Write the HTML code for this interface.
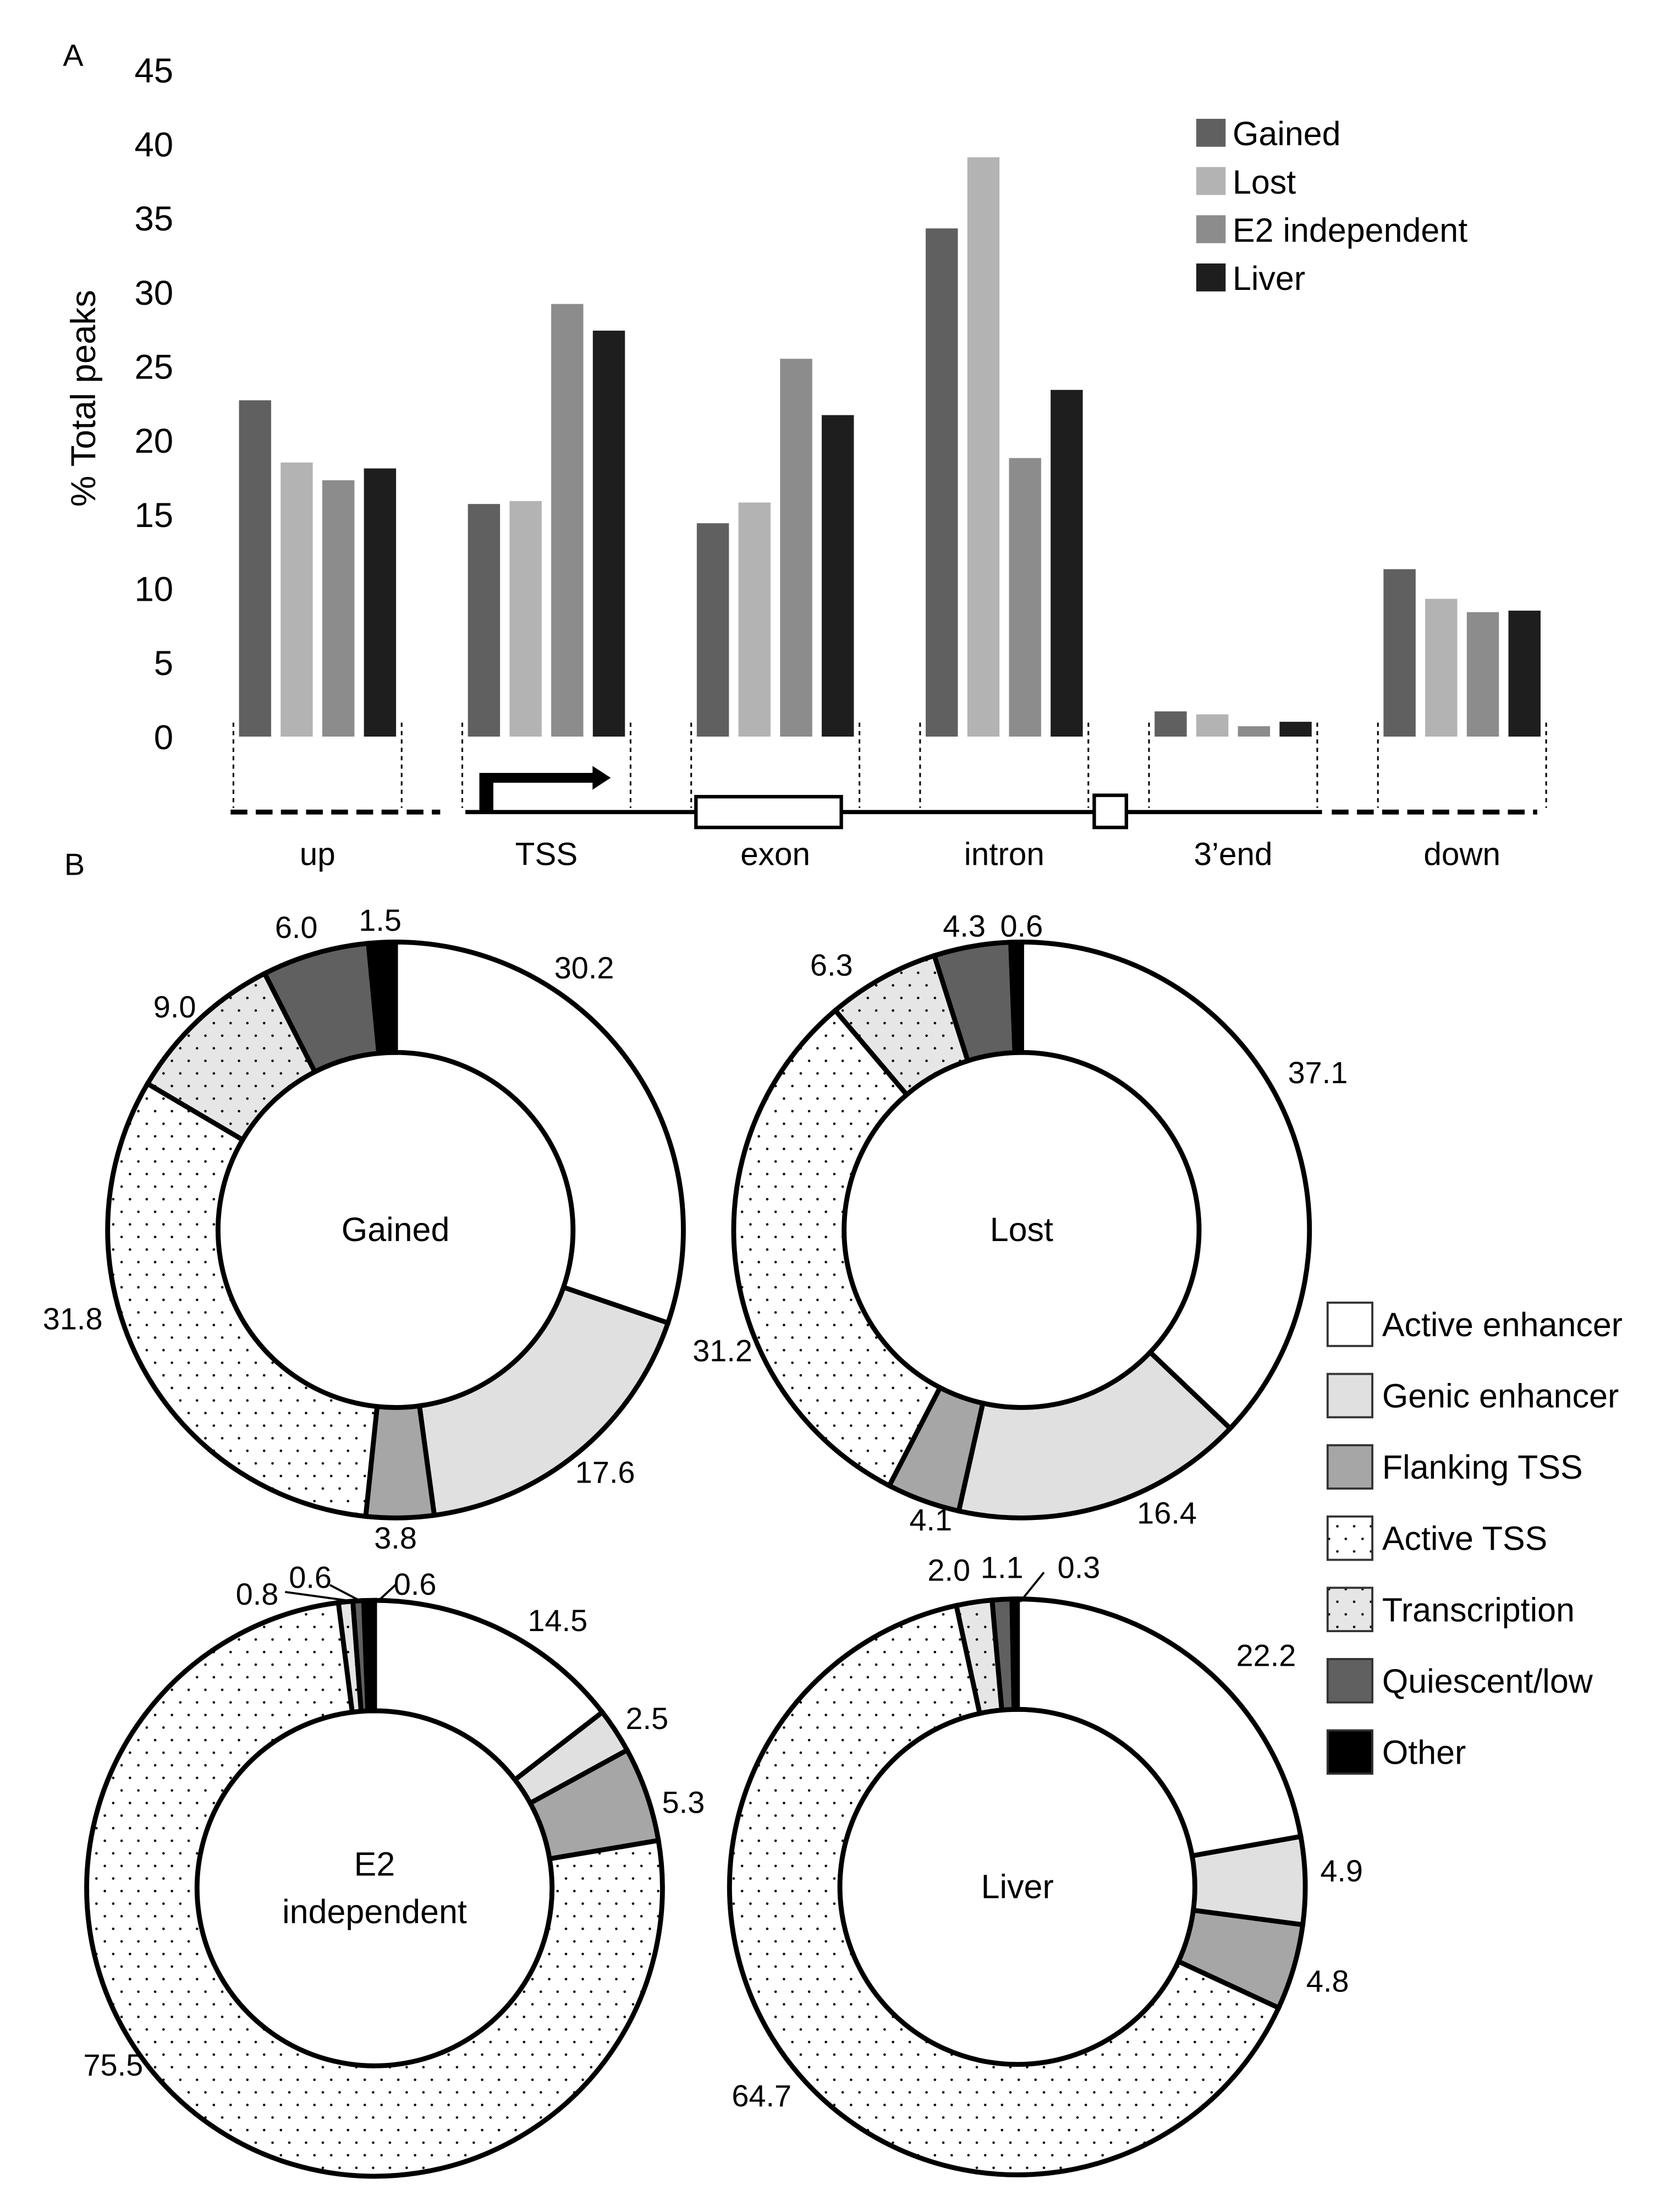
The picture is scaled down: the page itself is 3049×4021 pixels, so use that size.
<!DOCTYPE html>
<html><head><meta charset="utf-8"><style>
html,body{margin:0;padding:0;background:#fff;}
svg{display:block;font-family:"Liberation Sans",Arial,sans-serif;}
</style></head><body>
<svg id="fig" width="3049" height="4021" viewBox="0 0 1200 1582.6" xmlns="http://www.w3.org/2000/svg">
<defs>
<pattern id="dotsW" width="12" height="18" patternUnits="userSpaceOnUse">
<rect width="12" height="18" fill="#fff"/><circle cx="3" cy="3" r="0.9" fill="#000"/><circle cx="9" cy="12" r="0.9" fill="#000"/></pattern>
<pattern id="dotsG" width="12" height="18" patternUnits="userSpaceOnUse">
<rect width="12" height="18" fill="#e6e6e6"/><circle cx="3" cy="3" r="0.9" fill="#000"/><circle cx="9" cy="12" r="0.9" fill="#000"/></pattern>
</defs>
<g id="panelA"></g>
<g id="panelB"></g>
</svg>
<script>
const NS="http://www.w3.org/2000/svg";
// ---- Panel A data ----
const regions=["up","TSS","exon","intron","3\u2019end","down"];
const seriesNames=["Gained","Lost","E2 independent","Liver"];
const gainedVals=[22.7,15.7,14.4,34.3,1.7,11.3];
const lostVals=[18.5,15.9,15.8,39.1,1.5,9.3];
const e2Vals=[17.3,29.2,25.5,18.8,0.7,8.4];
const liverVals=[18.1,27.4,21.7,23.4,1.0,8.5];
const yTicks=[0,5,10,15,20,25,30,35,40,45];
// ---- Panel B data ----
const stateNames=["Active enhancer","Genic enhancer","Flanking TSS","Active TSS","Transcription","Quiescent/low","Other"];
const donutTitles=["Gained","Lost","E2 independent","Liver"];
const donutGained=[30.2,17.6,3.8,31.8,9.0,6.0,1.5];
const donutLost=[37.1,16.4,4.1,31.2,6.3,4.3,0.6];
const donutE2=[14.5,2.5,5.3,75.5,0.8,0.6,0.6];
const donutLiver=[22.2,4.9,4.8,64.7,2.0,1.1,0.3];

function el(tag,attrs,parent,text){const e=document.createElementNS(NS,tag);for(const k in attrs)e.setAttribute(k,attrs[k]);if(text!==undefined)e.textContent=text;parent.appendChild(e);return e;}

const A=document.getElementById('panelA');
const barColors=["#606060","#b3b3b3","#8c8c8c","#1e1e1e"];
const y0=527, yPer=10.6;
function yScale(v){return y0-v*yPer;}
function groupX(i){return 171+i*163.8;}
const barW=23, barStep=29.8;

let t=el('text',{x:45,y:47,'font-size':22},A,'A');

t=el('text',{x:46,y:626,'font-size':22},A,'B');


yTicks.forEach(v=>{const tk=el('text',{x:124,y:yScale(v)+9,'font-size':25,'text-anchor':'end'},A,String(v));

});
t=el('text',{x:0,y:0,'font-size':25,'text-anchor':'middle',transform:'translate(68,285) rotate(-90)'},A,'% Total peaks');


const allVals=[gainedVals,lostVals,e2Vals,liverVals];
regions.forEach((r,i)=>{
  allVals.forEach((vals,j)=>{
    const x=groupX(i)+j*barStep;
    const b=el('rect',{x:x,y:yScale(vals[i]),width:barW,height:vals[i]*yPer,fill:barColors[j]},A);
    
    
  });
  const gl=groupX(i)-4, gr=groupX(i)+3*barStep+barW+4;
  [gl,gr].forEach(xx=>{const d=el('line',{x1:xx,y1:517,x2:xx,y2:578,stroke:'#000','stroke-width':1.2,'stroke-dasharray':'3,3'},A);
  
  });
  const lb=el('text',{x:groupX(i)+(3*barStep+barW)/2,y:619,'font-size':23,'text-anchor':'middle'},A,r);
  
  
});
// gene diagram
const gd=el('g',{},A);

el('line',{x1:165,y1:581,x2:315,y2:581,stroke:'#000','stroke-width':3.5,'stroke-dasharray':'12,6'},gd);
el('line',{x1:953,y1:581,x2:1100,y2:581,stroke:'#000','stroke-width':3.5,'stroke-dasharray':'12,6'},gd);
el('line',{x1:333,y1:581,x2:946,y2:581,stroke:'#000','stroke-width':3},gd);
el('rect',{x:498,y:570,width:104,height:22,fill:'#fff',stroke:'#000','stroke-width':2.5},gd);
el('rect',{x:783,y:569,width:23,height:23,fill:'#fff',stroke:'#000','stroke-width':2.5},gd);
el('path',{d:'M343 581 L343 553 L424 553 L424 548 L437 556.5 L424 565 L424 560 L353 560 L353 581 Z',fill:'#000'},gd);
// legend A
seriesNames.forEach((n,j)=>{
  const cy=95+j*34.5;
  const s=el('rect',{x:856,y:cy-10,width:21,height:20,fill:barColors[j]},A);
  
  
  const lt=el('text',{x:882,y:cy+9,'font-size':24},A,n);
  
  
});

// ---- Panel B ----
const B=document.getElementById('panelB');
const stateFills=["#ffffff","#e0e0e0","#a6a6a6","url(#dotsW)","url(#dotsG)","#606060","#000000"];
const donutData=[donutGained,donutLost,donutE2,donutLiver];
const centers=[[283,880],[731,880],[268,1351],[728,1350]];
const Ro=206, Ri=127;
// label layout positions (display coords) - layout only
const labelPos=[
 [[418,700],[433,1061],[283,1108],[52,951],[125,728],[212,671],[272,666]],
 [[943,775],[835,1090],[666,1095],[517,974],[595,698],[690,670],[731,670]],
 [[399,1167],[463,1237],[489,1297],[81,1485],[184,1148],[222,1136],[297,1141]],
 [[906,1192],[960,1346],[950,1425],[545,1507],[679,1131],[717,1129],[772,1129]]];
function pt(cx,cy,r,a){return [cx+r*Math.sin(a),cy-r*Math.cos(a)];}
donutData.forEach((vals,d)=>{
  const [cx,cy]=centers[d];
  const g=el('g',{},B);
  
  
  const total=vals.reduce((a,b)=>a+b,0);
  let acc=0;
  vals.forEach((v,k)=>{
    const a0=acc/total*2*Math.PI; acc+=v; const a1=acc/total*2*Math.PI;
    const large=(a1-a0)>Math.PI?1:0;
    const p0=pt(cx,cy,Ro,a0),p1=pt(cx,cy,Ro,a1),q1=pt(cx,cy,Ri,a1),q0=pt(cx,cy,Ri,a0);
    const p=el('path',{d:`M${p0[0]} ${p0[1]} A${Ro} ${Ro} 0 ${large} 1 ${p1[0]} ${p1[1]} L${q1[0]} ${q1[1]} A${Ri} ${Ri} 0 ${large} 0 ${q0[0]} ${q0[1]} Z`,fill:stateFills[k],stroke:'#000','stroke-width':3.5,'stroke-linejoin':'miter'},g);
    
    
    const lp=labelPos[d][k];
    const lt=el('text',{x:lp[0],y:lp[1],'font-size':22,'text-anchor':'middle'},g,v.toFixed(1));
    
    
  });
  const words=donutTitles[d]==="E2 independent"?["E2","independent"]:[donutTitles[d]];
  words.forEach((w,i)=>{
    const ct=el('text',{x:cx,y:cy+8+(words.length>1?(i-0.5)*34:0),'font-size':24,'text-anchor':'middle'},g,w);
    
    
  });
});
// leader lines for small slices
const ld=el('g',{stroke:'#000','stroke-width':1.5,fill:'none'},B);

el('path',{d:'M204 1139 L255 1146'},ld);el('path',{d:'M236 1134 L259 1146'},ld);el('path',{d:'M284 1133 L270 1146'},ld);
el('path',{d:'M747 1125 L730 1146'},ld);
// legend B
stateNames.forEach((n,k)=>{
  const y=932+k*51;
  const s=el('rect',{x:950,y:y,width:32,height:31,fill:stateFills[k],stroke:'#333','stroke-width':1.5},B);
  
  
  const lt=el('text',{x:989,y:y+24,'font-size':24},B,n);
  
  
});
</script>
</body></html>
